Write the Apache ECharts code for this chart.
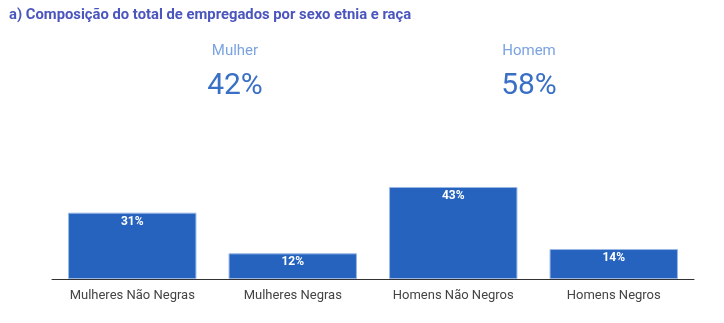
<!DOCTYPE html>
<html>
<head>
<meta charset="utf-8">
<script src="https://cdn.jsdelivr.net/npm/echarts@6/dist/echarts.min.js"></script>
<style>
  html, body { margin: 0; padding: 0; background: #fff; }
  #chart { width: 724px; height: 323px; }
</style>
</head>
<body>
<div id="chart"></div>
<script>
// Employee composition by sex and ethnicity
const categories = ['Mulheres Não Negras', 'Mulheres Negras', 'Homens Não Negros', 'Homens Negros'];
const shares = [31, 12, 43, 14];
const sexLabels = ['Mulher', 'Homem'];
const sexShares = [42, 58];

const chart = echarts.init(document.getElementById('chart'));
const fontFamily = 'Roboto, "Noto Sans", sans-serif';

// Headline figures for each sex, centred above their pair of bars
const sexCenters = [235, 529];
const graphics = [];
sexLabels.forEach((name, i) => {
  graphics.push({
    type: 'text', x: sexCenters[i], y: 44,
    style: { text: name, fill: '#7aa3e0', font: '15px ' + fontFamily, textAlign: 'center' }
  });
  graphics.push({
    type: 'text', x: sexCenters[i], y: 71,
    style: { text: sexShares[i] + '%', fill: '#3a6fc6', font: '30px ' + fontFamily, textAlign: 'center' }
  });
});

chart.setOption({
  animation: false,
  title: {
    text: 'a) Composição do total de empregados por sexo etnia e raça',
    left: 4, top: 3,
    textStyle: { color: '#4a55bd', fontSize: 14.8, fontWeight: 'bold', fontFamily }
  },
  graphic: graphics,
  grid: { left: 52, right: 30, top: 172, bottom: 44 },
  xAxis: {
    type: 'category',
    data: categories,
    axisLine: { lineStyle: { color: '#333', width: 1 } },
    axisTick: { show: false },
    axisLabel: { color: '#444', fontSize: 13, fontFamily, margin: 10, interval: 0 }
  },
  yAxis: {
    type: 'value', min: 0, max: 50,
    show: false,
    splitLine: { show: false }
  },
  series: [{
    type: 'bar',
    data: shares,
    barCategoryGap: '20%',
    itemStyle: { color: '#2563be', borderColor: '#9ab8e6', borderWidth: 1 },
    label: {
      show: true, position: 'insideTop', distance: 3,
      formatter: p => p.value + '%',
      color: '#fff', fontSize: 12, fontWeight: 'bold', fontFamily
    }
  }]
});
</script>
</body>
</html>
